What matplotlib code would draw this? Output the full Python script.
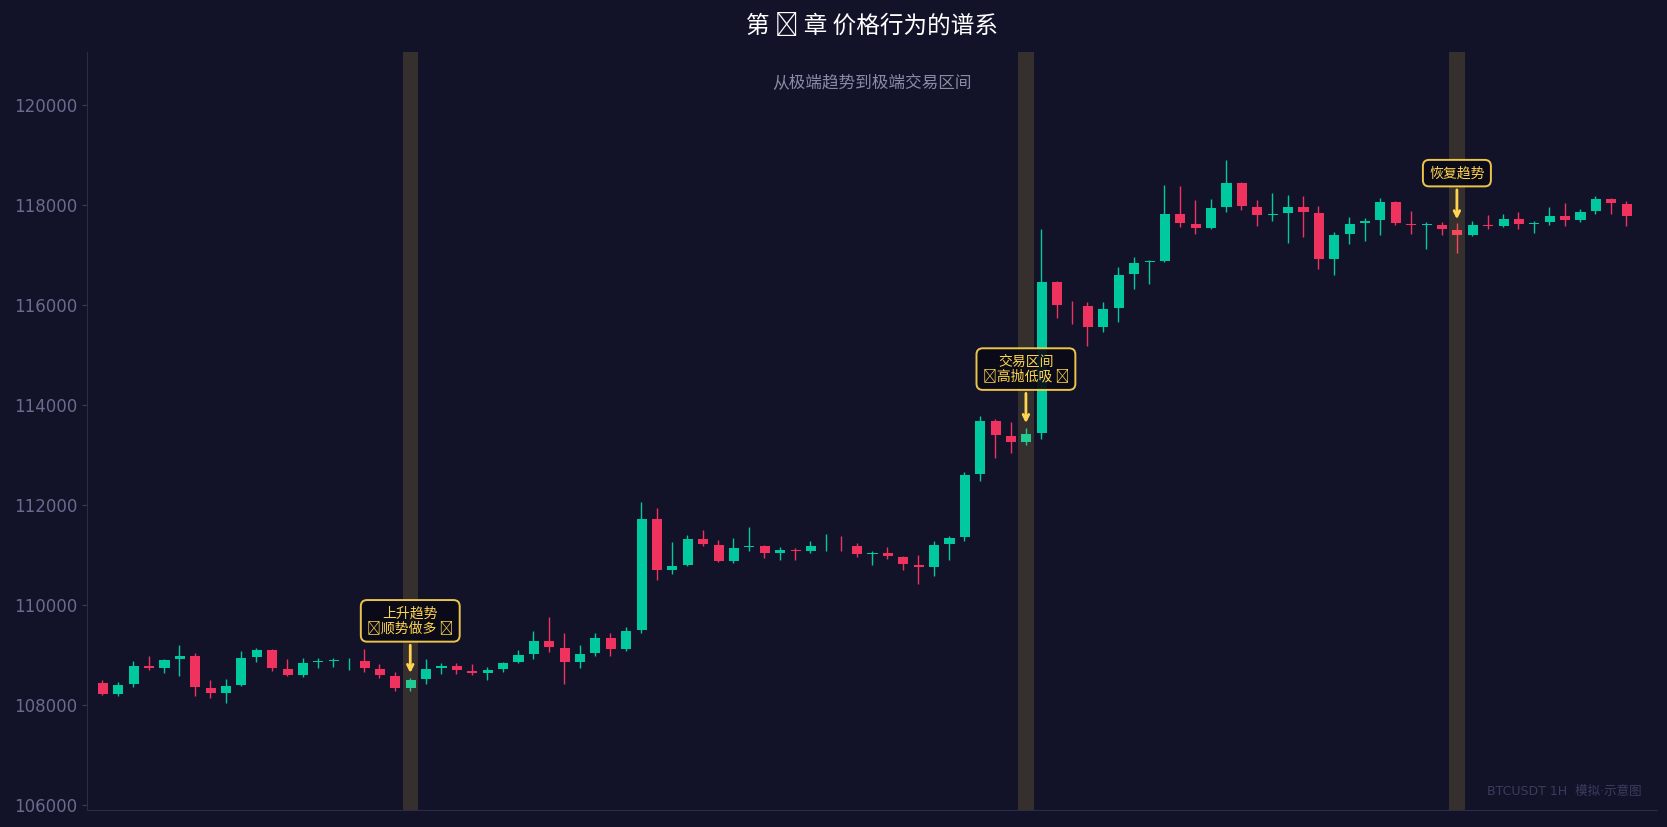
import matplotlib
matplotlib.use("Agg")
import matplotlib.pyplot as plt
from matplotlib.patches import Rectangle

plt.rcParams['font.family'] = ['Noto Sans CJK SC', 'DejaVu Sans']
plt.rcParams['axes.unicode_minus'] = False

# ---------------- data ----------------
opens = [108461, 108228, 108428, 108802, 108748, 108928, 109002, 108355, 108248, 108401,
         108968, 109122, 108735, 108601, 108862, 108882, 108908, 108902, 108735, 108601,
         108348, 108528, 108742, 108802, 108702, 108642, 108722, 108862, 109022, 109302,
         109162, 108862, 109042, 109362, 109122, 109502, 111743, 110702, 110803, 111343,
         111223, 110882, 111163, 111203, 111043, 111123, 111083, 111203, 111213, 111203,
         111023, 111063, 110983, 110823, 110762, 111223, 111363, 112617, 113703, 113403,
         113263, 113443, 116484, 116004, 116004, 115564, 115944, 116624, 116865, 116885,
         117845, 117652, 117545, 117966, 118466, 117986, 117806, 117846, 117986, 117866,
         116925, 117425, 117645, 117705, 118086, 117645, 117605, 117626, 117525, 117405,
         117625, 117585, 117745, 117625, 117665, 117806, 117705, 117886, 118146, 118046]
highs = [108501, 108461, 108882, 108982, 108915, 109202, 109035, 108501, 108521, 109082,
         109135, 109122, 108915, 108935, 108935, 108948, 108948, 109122, 108822, 108668,
         108548, 108922, 108842, 108842, 108822, 108762, 108862, 109102, 109482, 109762,
         109442, 109202, 109442, 109442, 109562, 112063, 111943, 111263, 111403, 111503,
         111303, 111343, 111563, 111203, 111163, 111143, 111283, 111423, 111383, 111243,
         111083, 111163, 110983, 111003, 111283, 111383, 112660, 113783, 113723, 113663,
         113543, 117525, 116484, 116084, 116064, 116064, 116765, 116965, 116905, 118406,
         118386, 118106, 118126, 118906, 118466, 118106, 118246, 118206, 118186, 117986,
         117465, 117765, 117745, 118146, 118086, 117886, 117665, 117665, 117645, 117685,
         117805, 117825, 117866, 117685, 117966, 118046, 117926, 118186, 118146, 118086]
lows = [108201, 108181, 108368, 108702, 108648, 108581, 108181, 108148, 108048, 108381,
        108868, 108688, 108581, 108568, 108748, 108768, 108702, 108668, 108548, 108288,
        108288, 108422, 108628, 108622, 108602, 108502, 108662, 108842, 108922, 109062,
        108422, 108742, 108982, 108982, 109082, 109442, 110502, 110622, 110783, 111183,
        110862, 110843, 111083, 110943, 110903, 110903, 111043, 111083, 111083, 110963,
        110803, 110923, 110702, 110422, 110582, 110903, 111277, 112490, 112950, 113037,
        113210, 113330, 115744, 115624, 115184, 115464, 115664, 116324, 116424, 116865,
        117572, 117425, 117525, 117866, 117906, 117586, 117686, 117245, 117365, 116725,
        116605, 117225, 117285, 117405, 117605, 117425, 117125, 117405, 117045, 117385,
        117525, 117565, 117525, 117445, 117605, 117586, 117665, 117826, 117826, 117586]
closes = [108228, 108421, 108802, 108748, 108915, 109002, 108368, 108248, 108401, 108962,
          109122, 108748, 108601, 108862, 108902, 108922, 108908, 108748, 108601, 108348,
          108521, 108742, 108802, 108702, 108642, 108722, 108862, 109022, 109302, 109162,
          108862, 109042, 109362, 109122, 109502, 111743, 110702, 110803, 111343, 111223,
          110882, 111163, 111203, 111043, 111123, 111083, 111203, 111223, 111208, 111023,
          111063, 110983, 110823, 110762, 111223, 111363, 112617, 113703, 113403, 113263,
          113443, 116484, 116004, 115999, 115564, 115944, 116624, 116865, 116905, 117845,
          117652, 117545, 117966, 118466, 117986, 117806, 117846, 117986, 117866, 116925,
          117425, 117645, 117705, 118086, 117645, 117605, 117645, 117525, 117405, 117625,
          117585, 117745, 117625, 117665, 117806, 117705, 117886, 118146, 118046, 117786]

ann_idx = [20, 60, 88]
ann_labels = ["上升趋势\n📈顺势做多 📈", "交易区间\n🔄高抛低吸 🔄", "恢复趋势"]
ann_tip = [108641, 113643, 117722]
ann_text_y = [109685, 114724, 118646]

yticks = [106000, 108000, 110000, 112000, 114000, 116000, 118000, 120000]

title = "第 📊 章 价格行为的谱系"
subtitle = "从极端趋势到极端交易区间"
watermark = "BTCUSDT 1H  模拟·示意图"

# ---------------- style ----------------
BG = '#121229'
GREEN = '#00C9A0'
RED = '#F0325F'
GOLD = '#FFD54F'

fig = plt.figure(figsize=(16.67, 8.27), dpi=100, facecolor=BG)
ax = fig.add_axes([0.0522, 0.0206, 0.9418, 0.9165])
ax.set_facecolor(BG)

width = 0.72
for i, (o, h, l, c) in enumerate(zip(opens, highs, lows, closes)):
    col = GREEN if c >= o else RED
    ax.vlines(i, l, h, color=col, linewidth=1.0, zorder=3)
    ax.add_patch(Rectangle((i - width / 2, min(o, c)), width, abs(c - o),
                           facecolor=col, edgecolor=BG, linewidth=0.7, zorder=2))

for i in ann_idx:
    ax.axvspan(i - 0.5, i + 0.5, color=GOLD, alpha=0.15, linewidth=0, zorder=4)

for i, lab, tip, ty in zip(ann_idx, ann_labels, ann_tip, ann_text_y):
    ax.annotate(lab, xy=(i, tip), xytext=(i, ty), ha='center', va='center',
                fontsize=10, color=GOLD, linespacing=1.1,
                bbox=dict(boxstyle='round,pad=0.45', facecolor='#0a0a18', edgecolor=GOLD,
                          linewidth=1.4, alpha=0.92),
                arrowprops=dict(arrowstyle='->', color=GOLD, lw=2, shrinkA=2, shrinkB=0),
                zorder=6)

ax.set_xlim(-1, 101)
ax.set_ylim(105900, 121070)
ax.set_yticks(yticks)
ax.set_yticklabels([str(v) for v in yticks], family='DejaVu Sans')
ax.tick_params(axis='y', colors='#3a3a5c', labelcolor='#6b6b8e', labelsize=12)
ax.set_xticks([])
for s in ['top', 'right']:
    ax.spines[s].set_visible(False)
for s in ['left', 'bottom']:
    ax.spines[s].set_color('#2c2c4a')

fig.text(0.5228, 0.968, title, ha='center', va='center', fontsize=17, color='white')
ax.text(0.5, 0.958, subtitle, transform=ax.transAxes, ha='center', va='center',
        fontsize=12, color='#8a8aa8')
ax.text(0.99, 0.025, watermark, transform=ax.transAxes, ha='right', va='center',
        fontsize=9, color='#3c3c5e', family=['DejaVu Sans', 'Noto Sans CJK SC'])

fig.savefig('out.png', dpi=100, facecolor=BG)
